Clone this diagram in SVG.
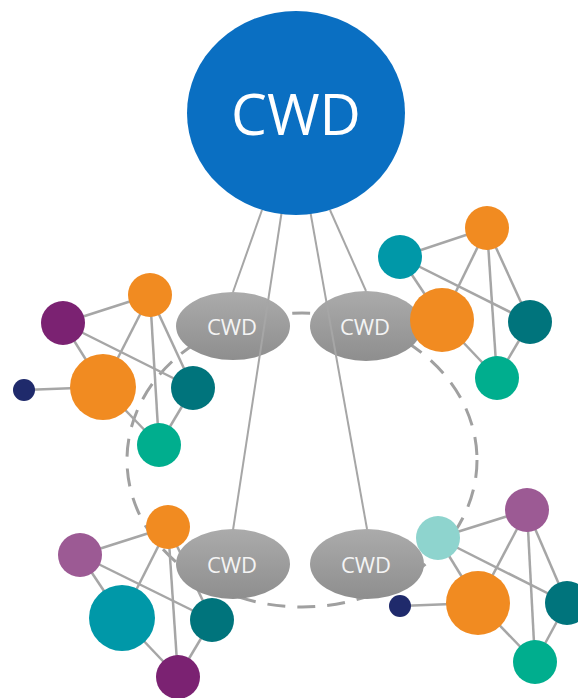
<svg xmlns="http://www.w3.org/2000/svg" width="578" height="698" viewBox="0 0 578 698">
<defs>
<linearGradient id="gr" x1="0" y1="0" x2="0" y2="1">
<stop offset="0" stop-color="#ababab"/>
<stop offset="1" stop-color="#8e8e8e"/>
</linearGradient>
<style>
.e{stroke:#a6a6a6;stroke-width:2.5;fill:none}
.m{stroke:#a6a6a6;stroke-width:2;fill:none}
.cwd{fill:url(#gr)}
.t{font-family:"Open Sans","Noto Sans",sans-serif;fill:#f4f4f4;font-size:22px;text-anchor:middle}
.or{fill:#F18B21}.pu{fill:#7B2272}.nv{fill:#1F2A6B}.dt{fill:#00747C}.gn{fill:#00AE8E}.tb{fill:#0098A8}.mv{fill:#9C5A94}.lt{fill:#8ED4CE}
</style>
</defs>
<rect width="578" height="698" fill="#ffffff"/>
<ellipse cx="302" cy="460" rx="175" ry="147" fill="none" stroke="#a0a0a0" stroke-width="3" stroke-dasharray="18 12"/>
<g id="edges">
<!-- cluster 1 -->
<line class="e" x1="63" y1="323" x2="150" y2="295"/>
<line class="e" x1="63" y1="323" x2="103" y2="387"/>
<line class="e" x1="63" y1="323" x2="193" y2="388"/>
<line class="e" x1="150" y1="295" x2="103" y2="387"/>
<line class="e" x1="150" y1="295" x2="159" y2="445"/>
<line class="e" x1="150" y1="295" x2="193" y2="388"/>
<line class="e" x1="24" y1="390" x2="103" y2="387"/>
<line class="e" x1="103" y1="387" x2="159" y2="445"/>
<line class="e" x1="193" y1="388" x2="159" y2="445"/>
<!-- cluster 2 -->
<line class="e" x1="400" y1="257" x2="487" y2="228"/>
<line class="e" x1="400" y1="257" x2="442" y2="320"/>
<line class="e" x1="400" y1="257" x2="530" y2="322"/>
<line class="e" x1="487" y1="228" x2="442" y2="320"/>
<line class="e" x1="487" y1="228" x2="497" y2="378"/>
<line class="e" x1="487" y1="228" x2="530" y2="322"/>
<line class="e" x1="442" y1="320" x2="497" y2="378"/>
<line class="e" x1="530" y1="322" x2="497" y2="378"/>
<!-- cluster 3 -->
<line class="e" x1="80" y1="555" x2="168" y2="527"/>
<line class="e" x1="80" y1="555" x2="122" y2="618"/>
<line class="e" x1="80" y1="555" x2="212" y2="620"/>
<line class="e" x1="168" y1="527" x2="122" y2="618"/>
<line class="e" x1="168" y1="527" x2="178" y2="677"/>
<line class="e" x1="168" y1="527" x2="212" y2="620"/>
<line class="e" x1="122" y1="618" x2="178" y2="677"/>
<line class="e" x1="212" y1="620" x2="178" y2="677"/>
<!-- cluster 4 -->
<line class="e" x1="438" y1="538" x2="527" y2="510"/>
<line class="e" x1="438" y1="538" x2="478" y2="603"/>
<line class="e" x1="438" y1="538" x2="567" y2="603"/>
<line class="e" x1="527" y1="510" x2="478" y2="603"/>
<line class="e" x1="527" y1="510" x2="535" y2="662"/>
<line class="e" x1="527" y1="510" x2="567" y2="603"/>
<line class="e" x1="478" y1="603" x2="535" y2="662"/>
<line class="e" x1="567" y1="603" x2="535" y2="662"/>
<line class="e" x1="400" y1="606" x2="478" y2="603"/>
</g>
<g id="cwd-tl"><ellipse class="cwd" cx="233" cy="326" rx="57" ry="34"/><text class="t" x="232" y="335">CWD</text></g>
<g id="cwd-tr"><ellipse class="cwd" cx="366" cy="326" rx="56" ry="35"/><text class="t" x="365" y="335">CWD</text></g>
<g id="cwd-bl"><ellipse class="cwd" cx="233" cy="564" rx="57" ry="35"/><text class="t" x="232" y="573">CWD</text></g>
<g id="cwd-br"><ellipse class="cwd" cx="367" cy="564" rx="57" ry="35"/><text class="t" x="366" y="573">CWD</text></g>
<g id="cluster-tl">
<circle class="pu" cx="63" cy="323" r="22"/>
<circle class="or" cx="150" cy="295" r="22"/>
<circle class="or" cx="103" cy="387" r="33"/>
<circle class="nv" cx="24" cy="390" r="11"/>
<circle class="dt" cx="193" cy="388" r="22"/>
<circle class="gn" cx="159" cy="445" r="22"/>
</g>
<g id="cluster-tr">
<circle class="tb" cx="400" cy="257" r="22"/>
<circle class="or" cx="487" cy="228" r="22"/>
<circle class="or" cx="442" cy="320" r="32"/>
<circle class="dt" cx="530" cy="322" r="22"/>
<circle class="gn" cx="497" cy="378" r="22"/>
</g>
<g id="cluster-bl">
<circle class="mv" cx="80" cy="555" r="22"/>
<circle class="or" cx="168" cy="527" r="22"/>
<circle class="tb" cx="122" cy="618" r="33"/>
<circle class="dt" cx="212" cy="620" r="22"/>
<circle class="pu" cx="178" cy="677" r="22"/>
</g>
<g id="cluster-br">
<circle class="lt" cx="438" cy="538" r="22"/>
<circle class="mv" cx="527" cy="510" r="22"/>
<circle class="or" cx="478" cy="603" r="32"/>
<circle class="dt" cx="567" cy="603" r="22"/>
<circle class="gn" cx="535" cy="662" r="22"/>
<circle class="nv" cx="400" cy="606" r="11"/>
</g>
<g id="connectors">
<line class="m" x1="262" y1="210" x2="233" y2="292"/>
<line class="m" x1="282" y1="210" x2="233" y2="530"/>
<line class="m" x1="310" y1="210" x2="367" y2="529"/>
<line class="m" x1="330" y1="210" x2="366" y2="291"/>
</g>
<g id="cwd-main">
<ellipse cx="296" cy="113" rx="109" ry="102" fill="#0A6FC2"/>
<text x="296" y="135" font-family="'Open Sans','Noto Sans',sans-serif" font-size="57" fill="#ffffff" text-anchor="middle">CWD</text>
</g>
</svg>
